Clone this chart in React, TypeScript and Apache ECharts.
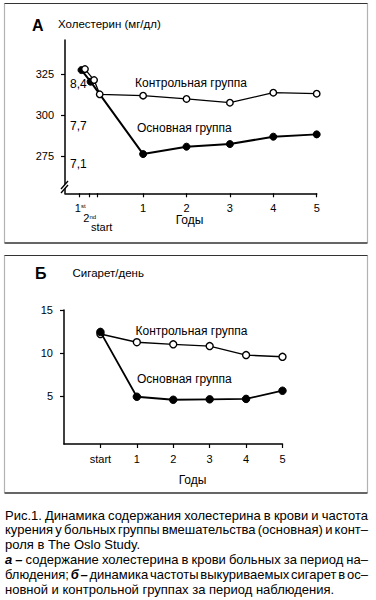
import React, { useEffect, useRef } from 'react';
import * as echarts from 'echarts';

const FONT = '"Liberation Sans", Arial, Helvetica, sans-serif';

// ---- Panel A: cholesterol (mg/dl) ----
const A_TICK_X = [-0.48, -0.23, -0.06, 1, 2, 3, 4, 5];
const A_LABEL_X = [-0.23, 1, 2, 3, 4, 5];
const A_TICK_LABELS = ['1st', '2nd', 'start', '1', '2', '3', '4', '5'];
const A_Y_TICKS = [275, 300, 325];
const A_CONTROL_X = [-0.34, -0.13, 0, 1, 2, 3, 4, 5];
const A_CONTROL = [328.0, 321.3, 312.6, 311.8, 309.8, 307.5, 313.6, 313.0];
const A_MAIN_X = [-0.42, -0.21, 1, 2, 3, 4, 5];
const A_MAIN = [327.4, 320.3, 276.2, 280.7, 282.3, 286.8, 288.2];
const A_MMOL = ['8,4', '7,7', '7,1'];

// ---- Panel B: cigarettes per day ----
const B_X = [0, 1, 2, 3, 4, 5];
const B_X_LABELS = ['start', '1', '2', '3', '4', '5'];
const B_Y_TICKS = [5, 10, 15];
const B_CONTROL = [12.2, 11.25, 11.0, 10.8, 9.75, 9.55];
const B_MAIN = [12.45, 4.9, 4.55, 4.6, 4.65, 5.6];

const CONTROL_NAME = 'Контрольная группа';
const MAIN_NAME = 'Основная группа';

// caption lines: segments [text, boldItalic]
const CAPTION: { segs: [string, boolean][]; justify: boolean }[] = [
  { segs: [['Рис.1. Динамика содержания холестерина в крови и частота', false]], justify: true },
  { segs: [['курения у больных группы вмешательства (основная) и конт–', false]], justify: true },
  { segs: [['роля в The Oslo Study.', false]], justify: false },
  { segs: [['а –', true], ['содержание холестерина в крови больных за период на–', false]], justify: true },
  { segs: [['блюдения;', false], ['б –', true], ['динамика частоты выкуриваемых сигарет в ос–', false]], justify: true },
  { segs: [['новной и контрольной группах за период наблюдения.', false]], justify: false },
];

function zip(xs: number[], ys: number[]) {
  return xs.map((x, i) => [x, ys[i]]);
}

function buildCaption(): any[] {
  const size = 13;
  const left = 5;
  const right = 368;
  const top = 515;
  const step = 14.8;
  const canvas = document.createElement('canvas');
  const ctx = canvas.getContext('2d')!;
  const out: any[] = [];
  CAPTION.forEach((line, li) => {
    const words: { t: string; b: boolean; w: number }[] = [];
    line.segs.forEach(([t, b]) => {
      t.split(' ').forEach((w) => {
        ctx.font = `${b ? 'italic bold ' : ''}${size}px "Liberation Sans"`;
        words.push({ t: w, b, w: ctx.measureText(w).width });
      });
    });
    ctx.font = `${size}px "Liberation Sans"`;
    const space = ctx.measureText(' ').width;
    const total = words.reduce((s, w) => s + w.w, 0);
    let gap = space;
    if (line.justify && words.length > 1) {
      gap = (right - left - total) / (words.length - 1);
    }
    let x = left;
    words.forEach((w) => {
      out.push({
        type: 'text',
        x,
        y: top + li * step,
        style: {
          text: w.t,
          fontSize: size,
          fontFamily: FONT,
          fontWeight: w.b ? 'bold' : 'normal',
          fontStyle: w.b ? 'italic' : 'normal',
          fill: '#000',
          textVerticalAlign: 'middle',
          verticalAlign: 'middle',
        },
      });
      x += w.w + gap;
    });
  });
  return out;
}

function txt(x: number, y: number, text: string, size: number, extra: any = {}) {
  return {
    type: 'text',
    x,
    y,
    style: {
      text,
      fontSize: size,
      fontFamily: FONT,
      fill: '#000',
      verticalAlign: 'middle',
      textVerticalAlign: 'middle',
      ...extra,
    },
  };
}

export default function App() {
  const ref = useRef<HTMLDivElement>(null);
  useEffect(() => {
    document.body.style.margin = '0';
    const chart = echarts.init(ref.current!, null, { renderer: 'svg' });

    const axisLine = { show: true, onZero: false, lineStyle: { color: '#000', width: 1.5 } };
    const tickStyle = { lineStyle: { color: '#000', width: 1.2 } };
    const labelBase = {
      color: '#000',
      fontSize: 11,
      fontFamily: FONT,
      hideOverlap: false,
      showMinLabel: true,
      showMaxLabel: true,
    };

    // the three pre-start ticks share one stacked label (1st / 2nd / start)
    const aFormatter = (v: number) => {
      if (Math.abs(v - A_TICK_X[1]) < 1e-6) {
        return (
          '{a|1}{as|' + A_TICK_LABELS[0].slice(1) + '}\n' +
          '{b|2}{bs|' + A_TICK_LABELS[1].slice(1) + '}\n' +
          '{c|' + A_TICK_LABELS[2] + '}'
        );
      }
      const i = A_TICK_X.findIndex((t) => Math.abs(t - v) < 1e-6);
      return '{n|' + (A_TICK_LABELS[i] ?? '') + '}';
    };
    const bFormatter = (v: number) => {
      const i = B_X.findIndex((t) => Math.abs(t - v) < 1e-6);
      return B_X_LABELS[i] ?? '';
    };

    const ctrlItem = { color: '#fff', borderColor: '#000', borderWidth: 1.4 };
    const mainItem = { color: '#000', borderColor: '#000', borderWidth: 1 };

    const borders = [
      { type: 'line', shape: { x1: 4.5, y1: 3.5, x2: 367.5, y2: 3.5 }, style: { stroke: '#333', lineWidth: 1.2 } },
      { type: 'line', shape: { x1: 4.5, y1: 243, x2: 367.5, y2: 243 }, style: { stroke: '#333', lineWidth: 1.5 } },
      { type: 'line', shape: { x1: 4.5, y1: 3.5, x2: 4.5, y2: 243 }, style: { stroke: '#666', lineWidth: 1.2, lineDash: [1, 1] } },
      { type: 'line', shape: { x1: 367.5, y1: 3.5, x2: 367.5, y2: 243 }, style: { stroke: '#666', lineWidth: 1.2, lineDash: [1, 1] } },
      { type: 'line', shape: { x1: 4.5, y1: 255.5, x2: 367.5, y2: 255.5 }, style: { stroke: '#333', lineWidth: 1.2 } },
      { type: 'line', shape: { x1: 4.5, y1: 493, x2: 367.5, y2: 493 }, style: { stroke: '#333', lineWidth: 1.5 } },
      { type: 'line', shape: { x1: 4.5, y1: 255.5, x2: 4.5, y2: 493 }, style: { stroke: '#666', lineWidth: 1.2, lineDash: [1, 1] } },
      { type: 'line', shape: { x1: 367.5, y1: 255.5, x2: 367.5, y2: 493 }, style: { stroke: '#666', lineWidth: 1.2, lineDash: [1, 1] } },
    ];

    const breakMark = [
      { type: 'polygon', shape: { points: [[61, 189], [68, 181], [68, 185], [61, 193]] }, style: { fill: '#fff' }, z: 10 },
      { type: 'line', shape: { x1: 61, y1: 189, x2: 68, y2: 181 }, style: { stroke: '#000', lineWidth: 1.3 }, z: 11 },
      { type: 'line', shape: { x1: 61, y1: 193, x2: 68, y2: 185 }, style: { stroke: '#000', lineWidth: 1.3 }, z: 11 },
    ];

    const texts = [
      txt(32, 25, 'А', 16, { fontWeight: 'bold' }),
      txt(58, 24, 'Холестерин (мг/дл)', 11.5),
      txt(70, 84, A_MMOL[0], 12),
      txt(70, 125.5, A_MMOL[1], 12),
      txt(70, 163.5, A_MMOL[2], 12),
      txt(135, 83, CONTROL_NAME, 12),
      txt(137, 127.5, MAIN_NAME, 12),
      txt(189.5, 220, 'Годы', 12, { align: 'center', textAlign: 'center' }),
      txt(35, 273.5, 'Б', 16, { fontWeight: 'bold' }),
      txt(72.5, 272.5, 'Сигарет/день', 11.5),
      txt(135.5, 330.5, CONTROL_NAME, 12),
      txt(137, 378.5, MAIN_NAME, 12),
      txt(192.5, 479.5, 'Годы', 12, { align: 'center', textAlign: 'center' }),
    ];

    const r = (o: any) => ({ fontFamily: FONT, color: '#000', ...o });

    chart.setOption({
      animation: false,
      backgroundColor: '#fff',
      grid: [
        { left: 65, top: 40, width: 251.7, height: 153.3, containLabel: false, outerBoundsMode: 'none' },
        { left: 64, top: 310, width: 218.5, height: 134, containLabel: false, outerBoundsMode: 'none' },
      ],
      xAxis: [
        {
          type: 'value',
          gridIndex: 0,
          min: -0.8,
          max: 5,
          axisLine,
          splitLine: { show: false },
          axisTick: { show: true, length: 4, customValues: A_TICK_X, ...tickStyle },
          axisLabel: {
            ...labelBase,
            customValues: A_LABEL_X,
            margin: 9.5,
            formatter: aFormatter,
            rich: {
              n: r({ fontSize: 11, lineHeight: 11 }),
              a: r({ fontSize: 11, lineHeight: 11 }),
              as: r({ fontSize: 6, lineHeight: 11, verticalAlign: 'top', padding: [0, 19, 0, 0] }),
              b: r({ fontSize: 11, lineHeight: 9 }),
              bs: r({ fontSize: 6, lineHeight: 9, verticalAlign: 'top' }),
              c: r({ fontSize: 11, lineHeight: 9, padding: [0, 0, 0, 24] }),
            },
          },
        },
        {
          type: 'value',
          gridIndex: 1,
          min: -1,
          max: 5,
          axisLine,
          splitLine: { show: false },
          axisTick: { show: true, length: 4, customValues: B_X, ...tickStyle },
          axisLabel: { ...labelBase, customValues: B_X, margin: 9, formatter: bFormatter },
        },
      ],
      yAxis: [
        {
          type: 'value',
          gridIndex: 0,
          min: 252.3,
          max: 345.7,
          axisLine,
          splitLine: { show: false },
          axisTick: { show: true, length: 4, customValues: A_Y_TICKS, ...tickStyle },
          axisLabel: { ...labelBase, customValues: A_Y_TICKS, margin: 11 },
        },
        {
          type: 'value',
          gridIndex: 1,
          min: -0.6,
          max: 15,
          axisLine,
          splitLine: { show: false },
          axisTick: { show: true, length: 4, customValues: B_Y_TICKS, ...tickStyle },
          axisLabel: { ...labelBase, customValues: B_Y_TICKS, margin: 11 },
        },
      ],
      series: [
        {
          name: MAIN_NAME + ' A',
          type: 'line',
          xAxisIndex: 0,
          yAxisIndex: 0,
          data: zip(A_MAIN_X, A_MAIN),
          symbol: 'circle',
          symbolSize: 7,
          itemStyle: mainItem,
          lineStyle: { color: '#000', width: 2 },
          z: 2,
        },
        {
          name: CONTROL_NAME + ' A',
          type: 'line',
          xAxisIndex: 0,
          yAxisIndex: 0,
          data: zip(A_CONTROL_X, A_CONTROL),
          symbol: 'circle',
          symbolSize: 6.5,
          itemStyle: ctrlItem,
          lineStyle: { color: '#000', width: 1.3 },
          z: 3,
        },
        {
          name: CONTROL_NAME + ' B',
          type: 'line',
          xAxisIndex: 1,
          yAxisIndex: 1,
          data: zip(B_X, B_CONTROL),
          symbol: 'circle',
          symbolSize: 7,
          itemStyle: ctrlItem,
          lineStyle: { color: '#000', width: 1.4 },
          z: 2,
        },
        {
          name: MAIN_NAME + ' B',
          type: 'line',
          xAxisIndex: 1,
          yAxisIndex: 1,
          data: zip(B_X, B_MAIN),
          symbol: 'circle',
          symbolSize: 7.5,
          itemStyle: mainItem,
          lineStyle: { color: '#000', width: 1.8 },
          z: 3,
        },
      ],
      graphic: [...borders, ...breakMark, ...texts, ...buildCaption()],
    });
    return () => chart.dispose();
  }, []);
  return (
    <div
      ref={ref}
      style={{ position: 'absolute', left: 0, top: 0, width: 376, height: 600, background: '#fff' }}
    />
  );
}
